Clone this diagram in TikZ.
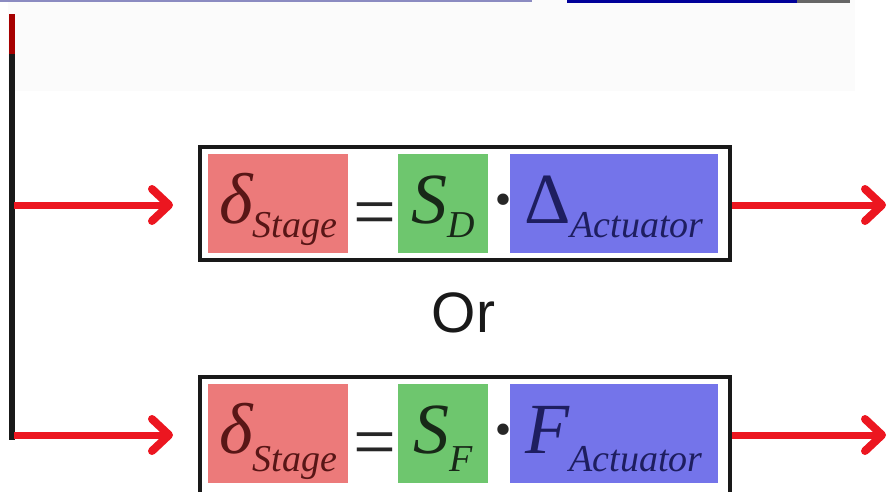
\documentclass[tikz,border=0pt]{standalone}
\usepackage{fontspec}
\setmainfont{Liberation Serif}
\newfontfamily\orfont{Liberation Sans}
\usetikzlibrary{arrows.meta,positioning}
\definecolor{stagered}{RGB}{236,122,122}
\definecolor{sensgreen}{RGB}{110,198,110}
\definecolor{actblue}{RGB}{116,116,234}
\definecolor{flowred}{RGB}{236,22,32}
\definecolor{stageink}{RGB}{88,22,22}
\definecolor{sensink}{RGB}{24,40,24}
\definecolor{actink}{RGB}{30,30,96}
\newcommand{\bigsym}{\fontsize{72}{72}\selectfont}
\newcommand{\subsym}{\fontsize{38}{38}\selectfont}

\begin{document}
\begin{tikzpicture}[x=1pt, y=-1pt,
    flow/.style={-{Straight Barb[length=17pt,width=32pt,line width=8pt,round]}, line width=7pt, color=flowred},
    frame/.style={draw=black!90, line width=4pt, minimum width=530pt, inner sep=0pt, anchor=north},
    term/.style={inner sep=0pt, minimum height=99pt, text height=40pt, text depth=0pt, font=\itshape\bigsym},
    op/.style={font=\bigsym, inner sep=0pt, text=black!85, anchor=base}]
    \useasboundingbox (0,0) rectangle (890,491);
    % faint strip and cut lines along the top edge
    \fill[gray!3] (8,0) rectangle (855,91);
    \draw[line width=2pt, color=blue!30!gray!70] (0,1) -- (532,1);
    \draw[line width=3pt, color=blue!60!black] (567,1) -- (797,1);
    \draw[line width=3pt, color=black!60] (797,1) -- (850,1);

    % feed line on the left
    \coordinate (feedtop) at (11.5,14);
    \coordinate (feedbot) at (11.5,440);
    \draw[line width=6pt, color=black!90] (feedtop) -- (feedbot);
    \draw[line width=6pt, color=red!65!black] (feedtop) -- ++(0,40);

    % the two forms of the stage equation
    \foreach \row/\yc/\fh/\sublow/\gsub/\bsym in {up/201.5/113/14/D/\upshape Δ, low/431.5/140/18/F/F} {
        \node[frame, minimum height=\fh pt] (frame\row) at (465,\yc-56.5) {};
        \node[term, fill=stagered, text=stageink, minimum width=140pt] (stage\row) at (278,\yc+1.5)
            {δ\raisebox{-\sublow pt}{\subsym\itshape Stage}};
        \node[op, font=\fontsize{76}{76}\selectfont] (eq\row) at (375,\yc+36) {=};
        \node[term, fill=sensgreen, text=sensink, minimum width=90pt] (sens\row) at (443,\yc+1.5)
            {S\raisebox{-\sublow pt}{\subsym\itshape \gsub}};
        \node[op, font=\fontsize{96}{96}\selectfont] (dot\row) at (503,\yc+30) {·};
        \node[term, fill=actblue, text=actink, minimum width=208pt] (act\row) at (614,\yc+1.5)
            {{\bsym}\raisebox{-\sublow pt}{\subsym\itshape Actuator}};
        \coordinate (tap\row) at (14,\yc+3.5);
        \coordinate (out\row) at (886,\yc+3.5);
        \draw[flow, shorten >=25pt] (tap\row) -- (tap\row -| frame\row.west);
        \draw[flow] (out\row -| frame\row.east) -- (out\row);
    }

    \node[font=\orfont\fontsize{57}{57}\selectfont, text=black!90, inner sep=0pt] (ortext) at (463.5,312.5) {Or};
\end{tikzpicture}
\end{document}
